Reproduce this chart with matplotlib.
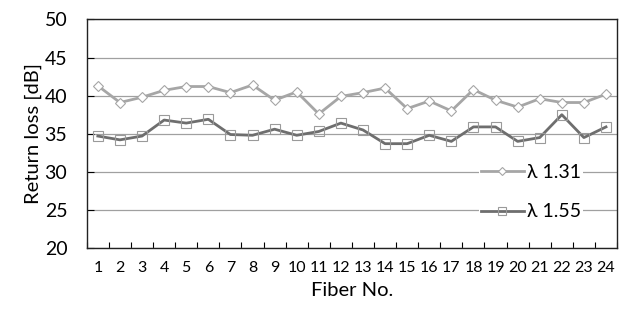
import matplotlib.pyplot as plt
import numpy as np

fiber = list(range(1, 25))
rl_131 = [41.3, 39.1, 39.8, 40.7, 41.2, 41.2, 40.4, 41.4, 39.4, 40.5, 37.6, 39.9,
          40.4, 41.0, 38.3, 39.3, 38.0, 40.8, 39.4, 38.5, 39.6, 39.1, 39.1, 40.2]
rl_155 = [34.7, 34.2, 34.7, 36.8, 36.4, 36.9, 34.9, 34.8, 35.6, 34.8, 35.3, 36.4,
          35.5, 33.7, 33.7, 34.8, 34.0, 35.9, 35.9, 34.0, 34.5, 37.5, 34.5, 35.9]
labels = ["λ 1.31", "λ 1.55"]

plt.rcParams["font.family"] = ["Lato", "DejaVu Sans"]

fig = plt.figure(figsize=(6.29, 3.14), dpi=100)
ax = fig.add_axes([0.138, 0.21, 0.843, 0.728])

ax.plot(fiber, rl_131, color="#a6a6a6", linewidth=2, marker="D", markersize=5.5,
        markerfacecolor="white", markeredgecolor="#a6a6a6", markeredgewidth=0.8,
        label=labels[0], zorder=3)
ax.plot(fiber, rl_155, color="#6e6e6e", linewidth=2, marker="s", markersize=7,
        markerfacecolor="none", markeredgecolor="#9a9a9a", markeredgewidth=0.8,
        label=labels[1], zorder=3)

ax.set_xlim(0.5, 24.5)
ax.set_ylim(20, 50)
ax.set_yticks(np.arange(20, 51, 5))
ax.set_xticks(fiber)
ax.set_xticks(np.arange(0.5, 25, 1), minor=True)
ax.tick_params(axis="x", which="major", length=0, labelsize=11.5, pad=9)
ax.tick_params(axis="x", which="minor", direction="in", length=4, width=0.8)
ax.tick_params(axis="y", direction="in", length=5, width=0.8, labelsize=14, pad=14)
ax.grid(axis="y", color="#a0a0a0", linewidth=0.9)
for s in ax.spines.values():
    s.set_color("#222222")
    s.set_linewidth(1.0)

ax.set_xlabel("Fiber No.", fontsize=14.5, labelpad=5)
ax.set_ylabel("Return loss [dB]", fontsize=14.5, labelpad=2)

leg = ax.legend(loc="lower right", bbox_to_anchor=(0.955, 0.07), frameon=True,
                fontsize=14, handlelength=2.2, handletextpad=0.2,
                labelspacing=1.15, borderpad=0.1, markerscale=0.8)
leg.get_frame().set_edgecolor("none")
leg.get_frame().set_facecolor("white")
leg.get_frame().set_alpha(1)

fig.savefig("out.png", dpi=100)
